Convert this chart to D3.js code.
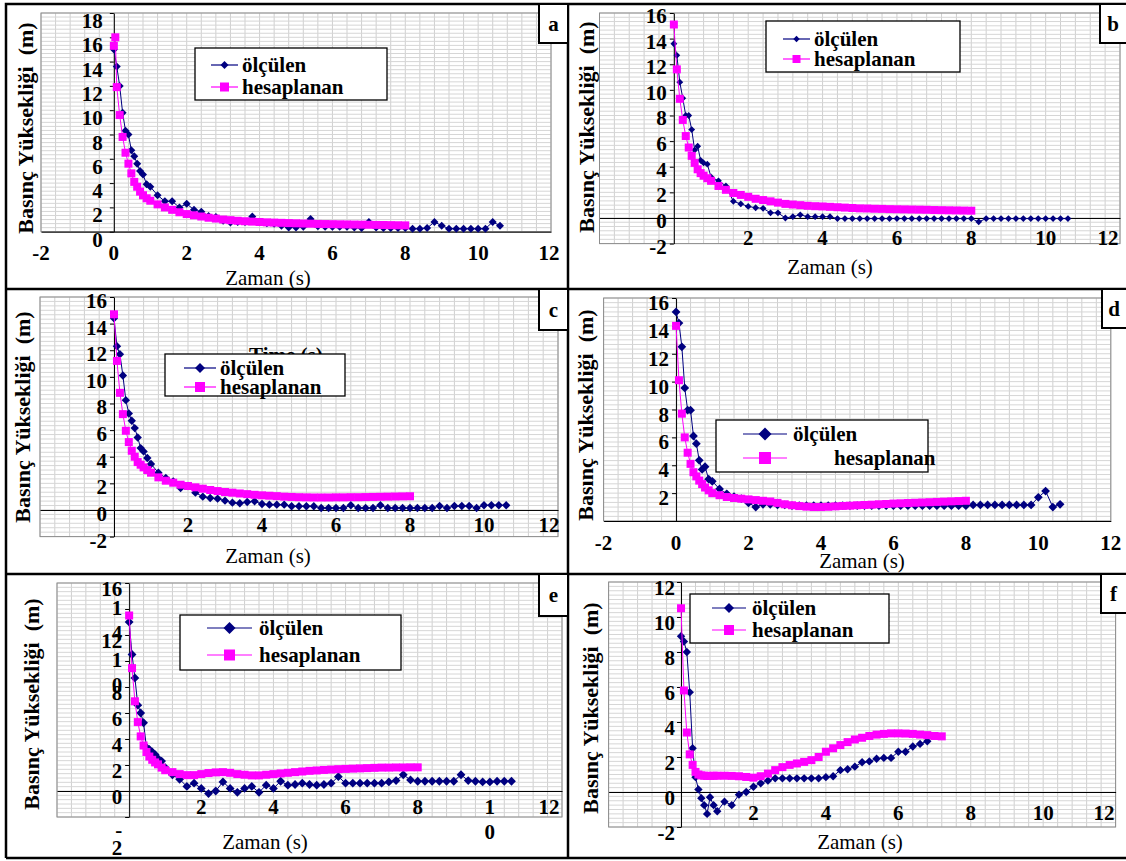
<!DOCTYPE html>
<meta charset="utf-8">
<style>
    body {
        margin: 0;
        background: #fff;
    }

    svg text {
        font-family: "Liberation Serif", "Times New Roman", serif;
        fill: #000;
    }

    .tick-lbl,
    .leg,
    .tag {
        font-size: 21px;
        font-weight: bold;
    }

    .ytitle {
        font-size: 22px;
        font-weight: bold;
    }

    .xtitle {
        font-size: 21px;
    }

    .grid line {
        stroke: #cfcfcf;
        stroke-width: 1;
    }

    .axis path,
    .axis line {
        stroke: #000;
        stroke-width: 1;
    }
</style>

<body>
    <svg id="fig" width="1126" height="861"></svg>

    <script src="https://cdnjs.cloudflare.com/ajax/libs/d3/7.8.5/d3.min.js"></script>

    <script>
        // sample times (s)
        var tMeas = [0, 0.08, 0.16, 0.24, 0.32, 0.4, 0.48, 0.56, 0.64, 0.72, 0.8, 0.9, 1.0,
            1.2, 1.4, 1.6, 1.8, 2.0, 2.2, 2.4, 2.6, 2.8, 3.0,
            3.2, 3.4, 3.6, 3.8, 4.0, 4.2, 4.4, 4.6, 4.8, 5.0,
            5.2, 5.4, 5.6, 5.8, 6.0, 6.2, 6.4, 6.6, 6.8, 7.0,
            7.2, 7.4, 7.6, 7.8, 8.0, 8.2, 8.4, 8.6, 8.8, 9.0,
            9.2, 9.4, 9.6, 9.8, 10.0, 10.2, 10.4, 10.6];
        var tCalc = [0, 0.04, 0.08, 0.16, 0.24, 0.32, 0.4, 0.48, 0.56, 0.64, 0.72, 0.8, 0.9, 1.0,
            1.2, 1.4, 1.6, 1.8, 2.0, 2.2, 2.4, 2.6, 2.8, 3.0,
            3.2, 3.4, 3.6, 3.8, 4.0, 4.2, 4.4, 4.6, 4.8, 5.0,
            5.2, 5.4, 5.6, 5.8, 6.0, 6.2, 6.4, 6.6, 6.8, 7.0,
            7.2, 7.4, 7.6, 7.8, 8.0];

        // ölçülen (measured)
        var measA = [15.0, 13.6, 12.0, 9.8, 8.3, 8.0, 6.7, 6.2, 5.6, 5.0, 4.7, 3.9, 3.7,
            3.0, 2.5, 2.5, 2.0, 2.3, 1.8, 1.65, 1.3, 1.2, 0.9,
            0.75, 0.8, 0.8, 1.25, 0.8, 0.7, 0.65, 0.5, 0.35, 0.35,
            0.4, 1.05, 0.45, 0.4, 0.4, 0.4, 0.4, 0.35, 0.3, 0.8,
            0.35, 0.3, 0.3, 0.3, 0.3, 0.25, 0.25, 0.3, 0.8, 0.5,
            0.25, 0.25, 0.25, 0.25, 0.25, 0.25, 0.8, 0.5];
        var measB = [13.6, 12.7, 10.6, 9.35, 8.0, 8.0, 6.9, 5.3, 5.6, 4.5, 4.3, 4.2, 3.2,
            2.9, 2.5, 1.3, 1.1, 0.9, 0.8, 0.75, 0.4, 0.4, 0.0,
            0.1, 0.25, 0.1, 0.1, 0.1, 0.1, -0.05, -0.05, -0.05, -0.05,
            -0.05, -0.05, -0.05, -0.05, -0.05, -0.05, -0.05, -0.05, -0.05, -0.05,
            -0.05, -0.05, -0.05, -0.05, -0.05, -0.3, -0.05, -0.05, -0.05, -0.05,
            -0.05, -0.05, -0.05, -0.05, -0.05, -0.05, -0.05, -0.05];
        var measC = [14.4, 12.3, 11.7, 10.1, 8.25, 7.25, 6.7, 6.15, 5.45, 4.65, 4.4, 3.9, 3.45,
            2.8, 2.4, 2.15, 1.65, 1.8, 1.3, 1.0, 0.9, 0.85, 0.7,
            0.55, 0.5, 0.6, 0.65, 0.45, 0.4, 0.4, 0.4, 0.28, 0.28,
            0.28, 0.28, 0.15, 0.15, 0.15, 0.15, 0.35, 0.15, 0.15, 0.15,
            0.35, 0.15, 0.15, 0.15, 0.15, 0.15, 0.15, 0.15, 0.3, 0.15,
            0.3, 0.3, 0.3, 0.15, 0.35, 0.35, 0.35, 0.35];
        var measD = [15.0, 14.2, 12.5, 9.55, 7.95, 7.95, 6.1, 5.55, 4.35, 3.7, 3.9, 3.0, 2.85,
            2.3, 1.95, 1.75, 1.6, 1.3, 1.0, 1.2, 1.2, 1.15, 1.15,
            1.1, 1.1, 1.1, 1.1, 1.1, 1.1, 1.1, 1.1, 1.1, 1.1,
            1.1, 1.1, 1.1, 1.1, 1.1, 1.1, 1.1, 1.1, 1.1, 1.1,
            1.1, 1.1, 1.1, 1.1, 1.1, 1.15, 1.15, 1.15, 1.15, 1.15,
            1.15, 1.15, 1.15, 1.15, 1.7, 2.15, 1.0, 1.2];
        var measE = [13.0, 10.5, 8.7, 6.6, 6.0, 5.25, 3.35, 3.2, 3.0, 2.8, 2.5, 2.3, 1.8,
            1.25, 0.9, 0.35, 0.6, 0.2, -0.2, 0.0, 0.7, 0.2, -0.1,
            0.2, 0.35, -0.1, 0.45, 0.2, 0.75, 0.45, 0.5, 0.6, 0.5,
            0.45, 0.5, 0.6, 1.1, 0.6, 0.6, 0.6, 0.6, 0.6, 0.6,
            0.7, 0.8, 1.25, 0.85, 0.75, 0.75, 0.75, 0.75, 0.75, 0.75,
            1.25, 0.8, 0.75, 0.7, 0.7, 0.75, 0.75, 0.75];
        var measF = [8.9, 8.6, 8.0, 5.7, 2.5, 0.85, 0.15, -0.35, -0.75, -1.25, -0.3, -0.75, -1.1,
            -0.55, -0.75, -0.15, 0.0, 0.3, 0.5, 0.65, 0.78, 0.78, 0.78,
            0.78, 0.78, 0.78, 0.78, 0.85, 0.9, 1.25, 1.3, 1.45, 1.7,
            1.75, 1.9, 1.95, 1.95, 2.3, 2.3, 2.6, 2.75, 2.9];

        // hesaplanan (calculated); null = no point at that time
        var calcA = [15.3, 16.0, 11.9, 9.6, 7.8, 6.5, 5.6, 4.8, 4.1, 3.7, 3.3, 3.0, 2.75, 2.55,
            2.25, 2.0, 1.8, 1.6, 1.45, 1.35, 1.25, 1.15, 1.08, 1.0,
            0.95, 0.9, 0.86, 0.83, 0.8, 0.77, 0.75, 0.73, 0.71, 0.69,
            0.67, 0.66, 0.64, 0.63, 0.62, 0.61, 0.6, 0.59, 0.58, 0.57,
            0.56, 0.55, 0.54, 0.53, 0.52];
        var calcB = [15.1, null, 11.6, 9.3, 7.65, 6.4, 5.5, 4.85, 4.3, 3.8, 3.5, 3.3, 3.1, 2.9,
            2.5, 2.2, 1.95, 1.8, 1.65, 1.5, 1.4, 1.3, 1.2, 1.1,
            1.05, 1.0, 0.95, 0.92, 0.9, 0.87, 0.84, 0.81, 0.78, 0.75,
            0.74, 0.72, 0.71, 0.69, 0.68, 0.67, 0.66, 0.65, 0.64, 0.62,
            0.61, 0.6, 0.59, 0.58, 0.57];
        var calcC = [14.7, null, 11.2, 8.8, 7.2, 5.95, 5.1, 4.45, 4.0, 3.6, 3.4, 3.2, 3.0, 2.8,
            2.45, 2.2, 2.05, 1.9, 1.8, 1.7, 1.6, 1.5, 1.42, 1.35,
            1.3, 1.24, 1.19, 1.14, 1.1, 1.07, 1.04, 1.0, 0.98, 0.96,
            0.95, 0.94, 0.94, 0.94, 0.95, 0.95, 0.96, 0.96, 0.97, 0.98,
            0.99, 1.0, 1.01, 1.02, 1.03];
        var calcD = [14.0, null, 10.1, 7.7, 6.0, 4.9, 4.1, 3.5, 3.2, 2.9, 2.65, 2.4, 2.2, 2.0,
            1.85, 1.72, 1.65, 1.6, 1.55, 1.5, 1.45, 1.4, 1.3, 1.2,
            1.13, 1.07, 1.03, 1.0, 1.0, 1.02, 1.05, 1.08, 1.1, 1.13,
            1.15, 1.17, 1.2, 1.22, 1.25, 1.27, 1.29, 1.31, 1.33, 1.35,
            1.37, 1.39, 1.41, 1.43, 1.45];
        var calcE = [13.5, null, 9.45, 6.9, 5.3, 4.2, 3.5, 3.0, 2.65, 2.4, 2.2, 2.05, 1.8, 1.6,
            1.45, 1.3, 1.22, 1.22, 1.3, 1.38, 1.43, 1.45, 1.4, 1.3,
            1.25, 1.2, 1.2, 1.25, 1.3, 1.35, 1.4, 1.45, 1.5, 1.55,
            1.58, 1.62, 1.65, 1.68, 1.7, 1.72, 1.74, 1.76, 1.78, 1.8,
            1.8, 1.81, 1.81, 1.82, 1.82];
        var calcF = [10.5, null, 5.8, 3.4, 2.15, 1.55, 1.15, 1.0, 0.95, 0.93, 0.92, 0.92, 0.93, 0.93,
            0.93, 0.92, 0.9, 0.86, 0.82, 0.9, 1.05, 1.25, 1.42, 1.55,
            1.63, 1.72, 1.82, 2.0, 2.3, 2.5, 2.68, 2.85, 3.0, 3.1,
            3.2, 3.28, 3.32, 3.35, 3.35, 3.34, 3.32, 3.28, 3.25, 3.2,
            3.18];

        var seriesNames = ["ölçülen", "hesaplanan"];
        var xTitleText = "Zaman (s)";
        var yTitleText = "Basınç Yüksekliği\u00a0 (m)";

        // ticks and tick labels
        var xTicksAll = [-2, 0, 2, 4, 6, 8, 10, 12];
        var xTicksPos = [2, 4, 6, 8, 10, 12];
        var xLabelsE = ["2", "4", "6", "8", "1\n0", "12"];
        var yTicksA = [0, 2, 4, 6, 8, 10, 12, 14, 16, 18];
        var yTicks16 = [-2, 0, 2, 4, 6, 8, 10, 12, 14, 16];
        var yTicksD = [2, 4, 6, 8, 10, 12, 14, 16];
        var yLabelsE = ["-\n2", "0", "2", "4", "6", "8", "1\n0", "12", "1\n4", "16"];
        var yTicksF = [-2, 0, 2, 4, 6, 8, 10, 12];

        var navy = "#000080", pink = "#ff00ff";

        // layout of the six panels
        var panels = [
            {
                tag: "a", meas: measA, calc: calcA, xRange: [41, 551], yDomain: [0, 18], yRange: [231.7, 13],
                yTicks: yTicksA, yLabels: null, yStep: 1 / 3, labGap: 11, labDy: 8,
                xTicks: xTicksAll, xLabels: null, xLabY: 253, xLabMax: 549,
                yTitle: [25, 128], xTitle: [268, 278],
                leg: { box: [195, 48, 192, 52], line: [211, 238], tx: [242, 242], ty: [65, 87], dr: 4, sq: 9 },
                tagBox: [539, 4, 29, 39], dr: 4, sq: 8
            },
            {
                tag: "b", meas: measB, calc: calcB, xRange: [599.5, 1120], yDomain: [-2, 16], yRange: [243.6, 13],
                yTicks: yTicks16, yLabels: null, yStep: 1 / 3, labGap: 7, labDy: 3,
                xTicks: xTicksPos, xLabels: null, xLabY: 238, xLabMax: 1108,
                yTitle: [586, 127], xTitle: [830, 267],
                leg: { box: [766, 21, 194, 51], line: [783, 810], tx: [814, 814], ty: [39, 59], dr: 3.2, sq: 8 },
                tagBox: [1100, 4, 30, 39], dr: 3.4, sq: 8
            },
            {
                tag: "c", meas: measC, calc: calcC, xRange: [40, 558], yDomain: [-2, 16], yRange: [536.6, 297],
                yTicks: yTicks16, yLabels: null, yStep: 1 / 3, labGap: 7, labDy: 4,
                xTicks: xTicksPos, xLabels: null, xLabY: 525, xLabMax: 549,
                yTitle: [22, 417], xTitle: [268, 556],
                ghost: { text: "Time (s)", x: 249, y: 362 },
                leg: { box: [165, 354, 180, 42], line: [184, 216], tx: [220, 220], ty: [368, 387], dr: 5, sq: 10 },
                tagBox: [539, 289, 29, 41], dr: 4.2, sq: 8
            },
            {
                tag: "d", meas: measD, calc: calcD, xRange: [603.6, 1110.8], yDomain: [0, 16], yRange: [521, 298],
                yTicks: yTicksD, yLabels: null, yStep: 1 / 3, labGap: 7, labDy: 5,
                xTicks: xTicksAll, xLabels: null, xLabY: 543, xLabMax: 1111,
                yTitle: [585, 415], xTitle: [862, 561],
                leg: { box: [716, 420, 212, 52], line: [743, 787], tx: [793, 834], ty: [434, 458], dr: 6.5, sq: 12 },
                tagBox: [1102, 289, 28, 39], dr: 4.4, sq: 8
            },
            {
                tag: "e", meas: measE, calc: calcE, xRange: [57, 562], yDomain: [-2, 16], yRange: [817, 583],
                yTicks: yTicks16, yLabels: yLabelsE, yStep: 1 / 3, labGap: 7, labDy: 6, lowDy: 13,
                xTicks: xTicksPos, xLabels: xLabelsE, xLabY: 807, xLabMax: 549,
                yTitle: [31, 704], xTitle: [265, 842],
                leg: { box: [180, 615, 221, 55], line: [207, 252], tx: [259, 259], ty: [628, 655], dr: 6, sq: 11 },
                tagBox: [539, 574, 29, 42], dr: 4.4, sq: 8
            },
            {
                tag: "f", meas: measF, calc: calcF, xRange: [608.6, 1115.6], yDomain: [-2, 12], yRange: [827, 582],
                yTicks: yTicksF, yLabels: null, yStep: 0.25, labGap: 6, labDy: 6,
                xTicks: xTicksPos, xLabels: null, xLabY: 813, xLabMax: 1104,
                yTitle: [590, 708], xTitle: [860, 842],
                leg: { box: [690, 594, 199, 49], line: [712, 746], tx: [752, 752], ty: [608, 630], dr: 5, sq: 10 },
                tagBox: [1101, 574, 29, 39], dr: 4.2, sq: 8
            }
        ];

        var svg = d3.select("#fig");

        function diamond(r) {
            return "M0," + (-r) + "L" + r + ",0L0," + r + "L" + (-r) + ",0Z";
        }

        function multiText(g, str, x, y, anchor, cls, lh) {
            var t = g.append("text").attr("class", cls)
                .attr("text-anchor", anchor)
                .attr("dominant-baseline", "central");
            String(str).split("\n").forEach(function (s, i) {
                t.append("tspan").attr("x", x).attr("y", y + i * lh).text(s);
            });
        }

        function drawSeries(g, times, vals, x, y, color, kind, size) {
            var pts = [];
            vals.forEach(function (v, i) { if (v !== null) pts.push([times[i], v]); });
            g.append("path").datum(pts)
                .attr("fill", "none")
                .attr("stroke", color)
                .attr("stroke-width", 1)
                .attr("d", d3.line().x(function (d) { return x(d[0]); }).y(function (d) { return y(d[1]); }));
            if (kind === "dia") {
                g.selectAll(null).data(pts).enter().append("path")
                    .attr("transform", function (d) { return "translate(" + x(d[0]) + "," + y(d[1]) + ")"; })
                    .attr("d", diamond(size))
                    .attr("fill", color);
            } else {
                g.selectAll(null).data(pts).enter().append("rect")
                    .attr("x", function (d) { return x(d[0]) - size / 2; })
                    .attr("y", function (d) { return y(d[1]) - size / 2; })
                    .attr("width", size).attr("height", size)
                    .attr("fill", color);
            }
        }

        panels.forEach(function (p) {
            var x = d3.scaleLinear().domain([-2, 12]).range(p.xRange);
            var y = d3.scaleLinear().domain(p.yDomain).range(p.yRange);
            var g = svg.append("g");

            // grid
            var grid = g.append("g").attr("class", "grid");
            grid.selectAll(null).data(d3.range(-2, 12.001, 0.4)).enter().append("line")
                .attr("x1", x).attr("x2", x)
                .attr("y1", p.yRange[1]).attr("y2", p.yRange[0]);
            grid.selectAll(null).data(d3.range(p.yDomain[0], p.yDomain[1] + 0.001, p.yStep)).enter().append("line")
                .attr("y1", y).attr("y2", y)
                .attr("x1", p.xRange[0]).attr("x2", p.xRange[1])
                .style("stroke", "#d6d6d6");
            g.append("rect")
                .attr("x", p.xRange[0]).attr("y", p.yRange[1])
                .attr("width", p.xRange[1] - p.xRange[0]).attr("height", p.yRange[0] - p.yRange[1])
                .attr("fill", "none").attr("stroke", "#8c8c8c").attr("stroke-width", 1);

            // axes through the origin
            g.append("g").attr("class", "axis")
                .attr("transform", "translate(0," + y(0) + ")")
                .call(d3.axisBottom(x).tickValues([]).tickSizeOuter(0));
            g.append("g").attr("class", "axis")
                .attr("transform", "translate(" + x(0) + ",0)")
                .call(d3.axisLeft(y).tickValues(p.yTicks).tickSize(4).tickSizeOuter(0).tickFormat(""));

            // series
            drawSeries(g, tMeas, p.meas, x, y, navy, "dia", p.dr);
            drawSeries(g, tCalc, p.calc, x, y, pink, "sq", p.sq);

            // tick labels
            p.yTicks.forEach(function (v, i) {
                var s = p.yLabels ? p.yLabels[i] : String(v);
                var multi = s.indexOf("\n") >= 0;
                var low = multi && v === p.yDomain[0] && p.lowDy;
                var yy = low ? y(v) + p.lowDy : y(v) + p.labDy - (multi ? 7 : 0);
                multiText(g, s, x(0) - p.labGap, yy, "end", "tick-lbl", low ? 18 : 25);
            });
            p.xTicks.forEach(function (v, i) {
                var s = p.xLabels ? p.xLabels[i] : String(v);
                multiText(g, s, Math.min(x(v), p.xLabMax), p.xLabY, "middle", "tick-lbl", 25);
            });

            // titles
            g.append("text").attr("class", "xtitle")
                .attr("text-anchor", "middle").attr("dominant-baseline", "central")
                .attr("x", p.xTitle[0]).attr("y", p.xTitle[1])
                .text(xTitleText);
            g.append("text").attr("class", "ytitle")
                .attr("text-anchor", "middle").attr("dominant-baseline", "central")
                .attr("transform", "translate(" + p.yTitle[0] + "," + p.yTitle[1] + ") rotate(-90)")
                .text(yTitleText);

            // half-hidden leftover caption behind legend in panel c
            if (p.ghost) {
                g.append("text").attr("class", "leg")
                    .attr("x", p.ghost.x).attr("y", p.ghost.y)
                    .text(p.ghost.text);
            }

            // legend
            var L = p.leg;
            var lg = g.append("g");
            lg.append("rect")
                .attr("x", L.box[0]).attr("y", L.box[1])
                .attr("width", L.box[2]).attr("height", L.box[3])
                .attr("fill", "#fff").attr("stroke", "#000").attr("stroke-width", 1.3);
            var mid = (L.line[0] + L.line[1]) / 2;
            [navy, pink].forEach(function (c, i) {
                lg.append("line")
                    .attr("x1", L.line[0]).attr("x2", L.line[1])
                    .attr("y1", L.ty[i]).attr("y2", L.ty[i])
                    .attr("stroke", c).attr("stroke-width", 1.2);
                if (i === 0) {
                    lg.append("path").attr("transform", "translate(" + mid + "," + L.ty[i] + ")")
                        .attr("d", diamond(L.dr)).attr("fill", c);
                } else {
                    lg.append("rect")
                        .attr("x", mid - L.sq / 2).attr("y", L.ty[i] - L.sq / 2)
                        .attr("width", L.sq).attr("height", L.sq).attr("fill", c);
                }
                lg.append("text").attr("class", "leg")
                    .attr("x", L.tx[i]).attr("y", L.ty[i])
                    .attr("dominant-baseline", "central")
                    .text(seriesNames[i]);
            });
        });

        // panel frames
        var frame = svg.append("g").attr("stroke", "#000").attr("stroke-width", 2.5).attr("fill", "none");
        frame.append("path").attr("d", "M6,858V4H1126M568,4V858M6,289H1126M6,574H1126M6,858H1126");

        // panel letters
        panels.forEach(function (p) {
            var b = p.tagBox;
            svg.append("rect")
                .attr("x", b[0]).attr("y", b[1]).attr("width", b[2]).attr("height", b[3])
                .attr("fill", "#fff").attr("stroke", "#000").attr("stroke-width", 2);
            svg.append("text").attr("class", "tag")
                .attr("x", b[0] + b[2] / 2 - (b[0] > 1000 ? 2 : 0)).attr("y", b[1] + b[3] / 2)
                .attr("text-anchor", "middle").attr("dominant-baseline", "central")
                .text(p.tag);
        });
    </script>
</body>
